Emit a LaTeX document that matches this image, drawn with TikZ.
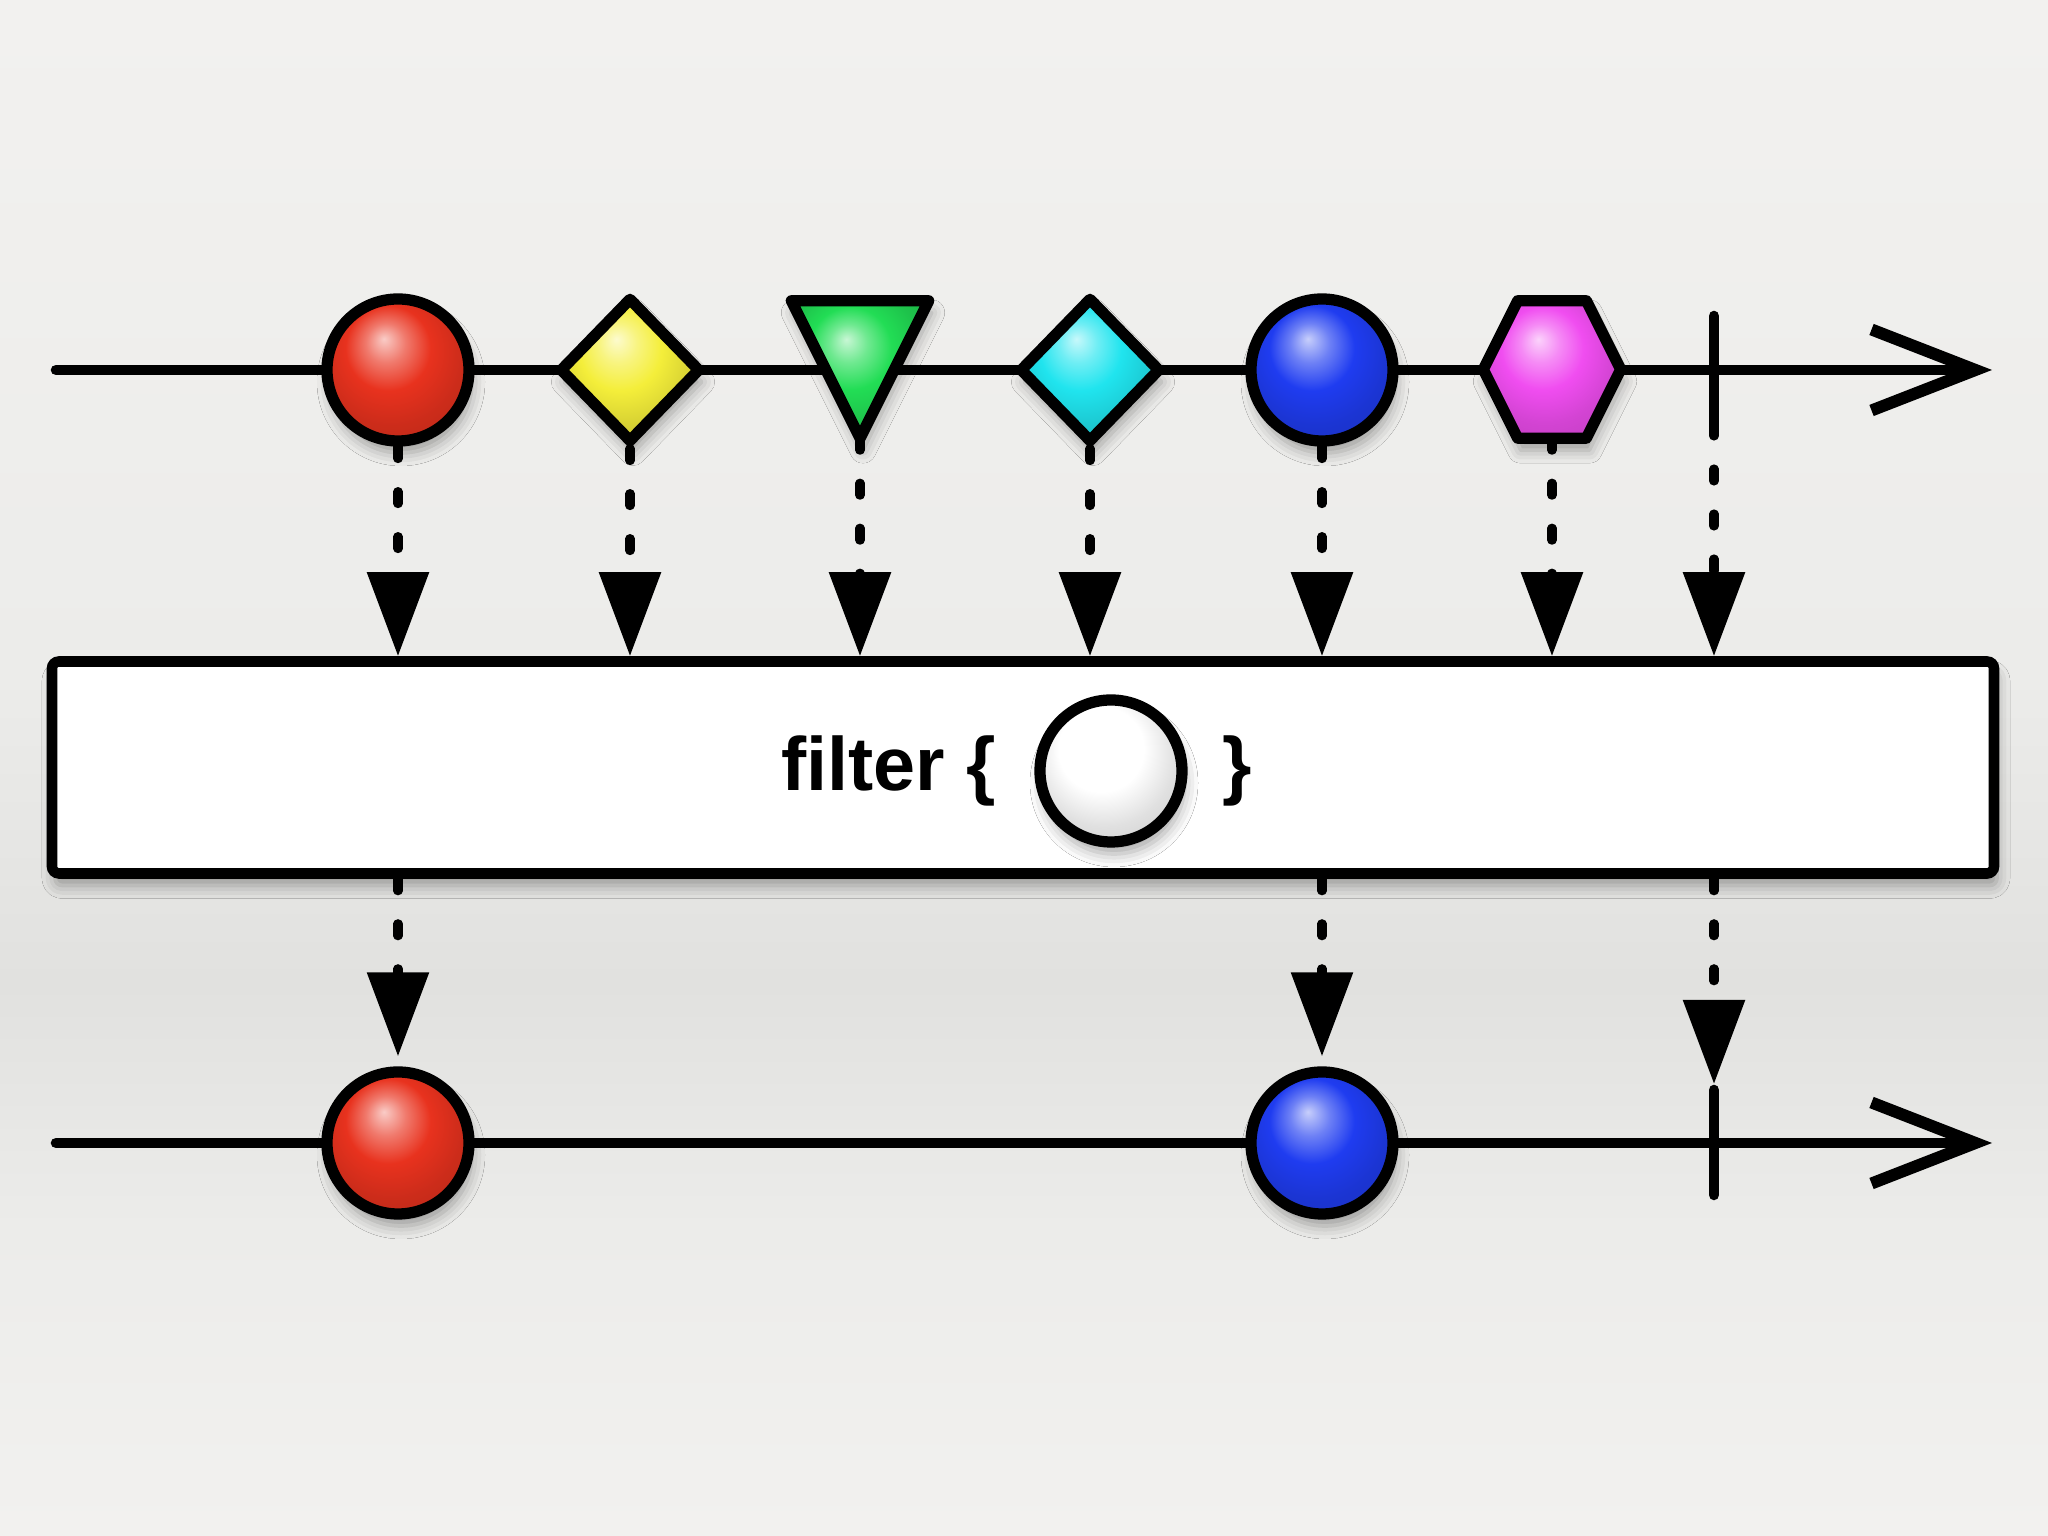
\documentclass[tikz,border=0pt]{standalone}
\usepackage{fontspec}
\setmainfont{Liberation Sans}
\usetikzlibrary{arrows.meta, positioning, shapes.geometric, calc, shadows.blur}
\definecolor{mred}{HTML}{E8321E}
\definecolor{myellow}{HTML}{F4EE3A}
\definecolor{mgreen}{HTML}{22DD55}
\definecolor{mcyan}{HTML}{20E4EE}
\definecolor{mblue}{HTML}{1F3CF0}
\definecolor{mmagenta}{HTML}{F04DF0}
\definecolor{bgl}{HTML}{F2F1EF}
\definecolor{bgm}{HTML}{ECECEA}
\definecolor{bgd}{HTML}{E1E1DF}
\colorlet{ballc}{white}
\pgfdeclareradialshading[ballc]{glossy}{\pgfqpoint{-5bp}{11bp}}{%
  color(0bp)=(ballc!25!white); color(7bp)=(ballc!65!white);
  color(15bp)=(ballc); color(25bp)=(ballc!88!black); color(50bp)=(ballc!70!black)}
\pgfdeclareverticalshading{paper}{100bp}{%
  color(0bp)=(bgl); color(25bp)=(bgl); color(35bp)=(bgm); color(43bp)=(bgd);
  color(53bp)=(bgm); color(75bp)=(bgl); color(100bp)=(bgl)}
\tikzset{
  evline/.style={line width=3pt, line cap=round},
  endarr/.style={-{Straight Barb[length=1.04cm, width=0.81cm, line width=3.4pt]}},
  soft/.style={blur shadow={shadow xshift=0.3mm, shadow yshift=-1.2mm,
               shadow blur radius=1.3mm, shadow opacity=35}},
  marble/.style={draw=black, line width=3.2pt, line join=round, shade, shading=glossy,
                 /utils/exec={\colorlet{ballc}{#1}}, soft},
  dot/.style={circle, inner sep=0pt, minimum size=1.42cm},
  gem/.style={diamond, inner sep=0pt, minimum width=1.42cm, minimum height=1.46cm},
  slot/.style={inner sep=0pt, minimum width=1.36cm, minimum height=1.36cm},
  emit/.style={line width=2.6pt, line cap=round, dash pattern=on 0.12cm off 0.33cm,
               -{Triangle[length=0.84cm, width=0.6cm, fill=black]}},
  opbox/.style={draw, fill=white, line width=3pt, rounded corners=2pt,
                minimum width=19.42cm, minimum height=2.12cm, soft},
  optext/.style={inner sep=0pt, font=\bfseries\fontsize{21.5}{25}\selectfont},
}

\begin{document}
\begin{tikzpicture}
  \useasboundingbox (0,0) rectangle (20.48,15.36);
  \shade[shading=paper] (0,0) rectangle (20.48,15.36);

  %% Source timeline
  \coordinate (s1) at (0.56,11.66);
  \coordinate (e1) at (19.92,11.66);
  \draw[evline, endarr] (s1) -- (e1);

  % emitted items
  \node[dot, marble=mred]     (r1) at (3.98,11.66) {};
  \node[gem, marble=myellow]  (y1) at (6.30,11.66) {};
  \node[slot]                 (g1) at (8.60,11.665) {};
  \path[marble=mgreen] (g1.north west) -- (g1.north east) -- (g1.south) -- cycle;
  \node[gem, marble=mcyan]    (c1) at (10.90,11.66) {};
  \node[dot, marble=mblue]    (b1) at (13.22,11.66) {};
  \node[slot]                 (h1) at (15.52,11.665) {};
  \path[marble=mmagenta] (h1.west)
    -- ($(h1.north west)!0.25!(h1.north east)$) -- ($(h1.north west)!0.75!(h1.north east)$)
    -- (h1.east)
    -- ($(h1.south west)!0.75!(h1.south east)$) -- ($(h1.south west)!0.25!(h1.south east)$)
    -- cycle;

  % completion
  \coordinate (t1top) at (17.14,12.20);
  \coordinate (t1) at (17.14,11.12);
  \draw[evline] (t1top) -- (t1);

  %% Operator box
  \node[opbox] (op) at (10.23,7.685) {};
  \node[dot, marble=white] (w) at (11.11,7.65) {};
  \node[optext, left=0.38cm of w]  (lbl) {filter \{};
  \node[optext, right=0.34cm of w] (rbr) {\}};

  % into the operator
  \foreach \n in {r1,y1,g1,c1,b1,h1}{
    \draw[emit] (\n.south) -- (\n |- op.north);
  }
  \draw[emit] (t1) -- (t1 |- op.north);

  %% Result timeline
  \coordinate (s2) at (0.56,3.93);
  \coordinate (e2) at (19.92,3.93);
  \draw[evline, endarr] (s2) -- (e2);

  \node[dot, marble=mred]  (r2) at (3.98,3.93) {};
  \node[dot, marble=mblue] (b2) at (13.22,3.93) {};
  \coordinate (t2top) at (17.14,4.46);
  \coordinate (t2) at (17.14,3.41);
  \draw[evline] (t2top) -- (t2);

  % out of the operator
  \draw[emit, shorten >=1mm] (r1 |- op.south) -- (r2.north);
  \draw[emit, shorten >=1mm] (b1 |- op.south) -- (b2.north);
  \draw[emit, shorten >=0.6mm] (t1 |- op.south) -- (t2top);

\end{tikzpicture}
\end{document}
